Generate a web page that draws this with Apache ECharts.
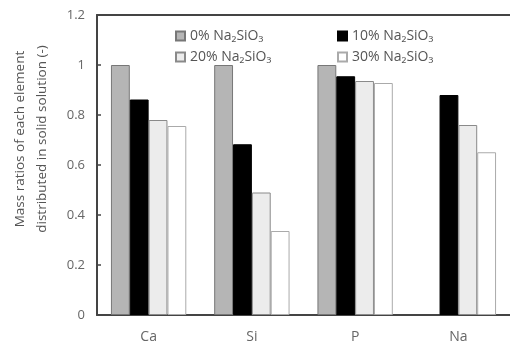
<!DOCTYPE html>
<html><head><meta charset="utf-8">
<script src="https://cdn.jsdelivr.net/npm/echarts@6/dist/echarts.min.js"></script>
<style>html,body{margin:0;padding:0;background:#fff}#c{width:510px;height:347px}</style>
</head><body><div id="c"></div>
<script>
const categories = ['Ca', 'Si', 'P', 'Na'];
const seriesNames = ['0% Na₂SiO₃', '10% Na₂SiO₃', '20% Na₂SiO₃', '30% Na₂SiO₃'];
const s0 = [1.0, 1.0, 1.0, null];
const s10 = [0.862, 0.683, 0.955, 0.88];
const s20 = [0.78, 0.49, 0.936, 0.76];
const s30 = [0.756, 0.336, 0.928, 0.651];
const yTicks = [0, 0.2, 0.4, 0.6, 0.8, 1, 1.2];

const styles = [
  {color: '#b5b5b5', borderColor: '#777', borderWidth: 1},
  {color: '#000000', borderColor: '#000', borderWidth: 1},
  {color: '#ececec', borderColor: '#8a8a8a', borderWidth: 1},
  {color: '#ffffff', borderColor: '#aaa', borderWidth: 1}
];
const data = [s0, s10, s20, s30];
const font = 'Open Sans';
const legendText = {fontFamily: font, fontSize: 14, color: '#555'};
const chart = echarts.init(document.getElementById('c'));
chart.setOption({
  animation: false,
  textStyle: {fontFamily: font},
  grid: {left: 97, top: 15, bottom: 32, right: -8, containLabel: false},
  legend: [
    {data: [seriesNames[0], seriesNames[2]], orient: 'vertical', left: 170, top: 24, itemWidth: 9, itemHeight: 9, itemGap: 7,
     textStyle: legendText, icon: 'rect'},
    {data: [seriesNames[1], seriesNames[3]], orient: 'vertical', left: 332, top: 24, itemWidth: 9, itemHeight: 9, itemGap: 7,
     textStyle: legendText, icon: 'rect'}
  ],
  xAxis: [{
    type: 'category', data: categories,
    axisLine: {lineStyle: {color: '#444', width: 2}},
    axisTick: {inside: true, length: 4, lineStyle: {color: '#444', width: 2}},
    axisLabel: {color: '#666', fontSize: 14, margin: 15, fontFamily: font}
  }, {
    type: 'category', data: categories, position: 'top',
    axisLine: {lineStyle: {color: '#444', width: 2}},
    axisTick: {show: false}, axisLabel: {show: false}
  }],
  yAxis: {
    type: 'value', min: 0, max: 1.2, interval: 0.2,
    axisLine: {show: true, lineStyle: {color: '#444', width: 2}},
    axisTick: {show: true, inside: true, length: 4, lineStyle: {color: '#444', width: 1.5}},
    splitLine: {show: false},
    axisLabel: {color: '#666', fontSize: 13, margin: 12, fontFamily: font,
      formatter: v => { const t = yTicks.find(x => Math.abs(x - v) < 1e-6); return t === undefined ? '' : String(t); }}
  },
  graphic: [{
    type: 'text', x: 31, y: 139, rotation: Math.PI / 2,
    style: {text: 'Mass ratios of each element\ndistributed in solid solution (-)', fill: '#555',
      font: '13.5px "Open Sans"', align: 'center', verticalAlign: 'middle', lineHeight: 22}
  }],
  series: data.map((d, i) => ({
    name: seriesNames[i], type: 'bar', data: d, xAxisIndex: 0,
    barGap: '0%', barCategoryGap: '27%',
    itemStyle: styles[i]
  }))
});
</script></body></html>
